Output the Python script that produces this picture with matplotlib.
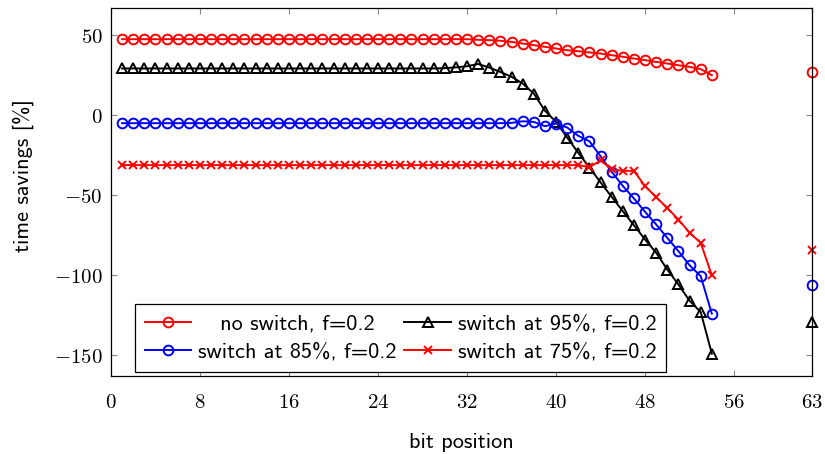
import matplotlib
matplotlib.use('Agg')
import matplotlib.pyplot as plt

plt.rcParams['mathtext.fontset'] = 'cm'
plt.rcParams['font.family'] = ['cmss10', 'DejaVu Sans']
plt.rcParams['axes.unicode_minus'] = True

# ---------------- data ----------------
bits = list(range(1, 55))

no_switch = [47.5, 47.5, 47.5, 47.5, 47.5, 47.5, 47.5, 47.5, 47.5, 47.5,
             47.5, 47.5, 47.5, 47.5, 47.5, 47.5, 47.5, 47.5, 47.5, 47.5,
             47.5, 47.5, 47.5, 47.5, 47.5, 47.5, 47.5, 47.5, 47.5, 47.5,
             47.5, 47.5, 47.1, 46.9, 46.5, 45.8, 44.8, 43.8, 42.7, 41.7,
             40.6, 40.0, 39.2, 38.5, 37.5, 36.5, 35.4, 34.4, 33.3, 32.3,
             31.2, 30.2, 28.8, 25.0]

switch95 = [29.2, 29.2, 29.2, 29.2, 29.2, 29.2, 29.2, 29.2, 29.2, 29.2,
            29.2, 29.2, 29.2, 29.2, 29.2, 29.2, 29.2, 29.2, 29.2, 29.2,
            29.2, 29.2, 29.2, 29.2, 29.2, 29.2, 29.2, 29.2, 29.2, 29.4,
            29.9, 30.6, 32.0, 29.8, 27.0, 24.0, 19.8, 13.5, 2.8, -4.2,
            -14.0, -23.5, -32.7, -42.0, -51.0, -60.0, -68.8, -77.7, -86.0, -96.5,
            -105.8, -116.0, -123.0, -149.0]

switch85 = [-5.0, -5.0, -5.0, -5.0, -5.0, -5.0, -5.0, -5.0, -5.0, -5.0,
            -5.0, -5.0, -5.0, -5.0, -5.0, -5.0, -5.0, -5.0, -5.0, -5.0,
            -5.0, -5.0, -5.0, -5.0, -5.0, -5.0, -5.0, -5.0, -5.0, -5.0,
            -5.0, -5.0, -5.0, -5.0, -5.0, -4.8, -3.8, -4.2, -6.9, -5.2,
            -7.7, -12.9, -16.3, -25.6, -35.4, -44.2, -52.0, -60.4, -68.3, -76.7,
            -85.0, -93.8, -100.6, -124.0]

switch75 = [-31.2, -31.2, -31.2, -31.2, -31.2, -31.2, -31.2, -31.2, -31.2, -31.2,
            -31.2, -31.2, -31.2, -31.2, -31.2, -31.2, -31.2, -31.2, -31.2, -31.2,
            -31.2, -31.2, -31.2, -31.2, -31.2, -31.2, -31.2, -31.2, -31.2, -31.2,
            -31.2, -31.2, -31.2, -31.2, -31.2, -31.2, -31.2, -31.2, -31.2, -31.2,
            -31.2, -31.2, -32.5, -28.3, -33.8, -34.8, -34.8, -44.4, -51.2, -58.0,
            -65.2, -73.5, -79.8, -100.0]

bit63 = [63]
no_switch_63 = [27.3]
switch95_63 = [-129.5]
switch85_63 = [-106.2]
switch75_63 = [-84.4]

labels = ['   no switch, f=0.2', 'switch at 95%, f=0.2',
          'switch at 85%, f=0.2', 'switch at 75%, f=0.2']

xticks = [0, 8, 16, 24, 32, 40, 48, 56, 63]
yticks = [-150, -100, -50, 0, 50]

# ---------------- figure ----------------
fig = plt.figure(figsize=(8.25, 4.54), dpi=100)
ax = fig.add_axes([0.1345, 0.1718, 0.8497, 0.8106])

lw = 1.4
mew = 1.4
ms_o = 7
ms_t = 6.5
ms_x = 6
h_no, = ax.plot(bits, no_switch, color='red', marker='o', ms=ms_o, mfc='none',
                mew=mew, lw=lw, label=labels[0])
h95, = ax.plot(bits, switch95, color='black', marker='^', ms=ms_t, mfc='none',
               mew=mew, lw=lw, label=labels[1])
h85, = ax.plot(bits, switch85, color='blue', marker='o', ms=ms_o, mfc='none',
               mew=mew, lw=lw, label=labels[2])
h75, = ax.plot(bits, switch75, color='red', marker='x', ms=ms_x,
               mew=mew, lw=lw, label=labels[3])

ax.plot(bit63, no_switch_63, color='red', marker='o', ms=ms_o, mfc='none',
        mew=mew, ls='none', clip_on=False)
ax.plot(bit63, switch95_63, color='black', marker='^', ms=ms_t, mfc='none',
        mew=mew, ls='none', clip_on=False)
ax.plot(bit63, switch85_63, color='blue', marker='o', ms=ms_o, mfc='none',
        mew=mew, ls='none', clip_on=False)
ax.plot(bit63, switch75_63, color='red', marker='x', ms=ms_x,
        mew=mew, ls='none', clip_on=False)

ax.set_xlim(0, 63)
ax.set_ylim(-163, 67)

ax.set_xticks(xticks)
ax.set_xticklabels([f'${v}$' for v in xticks])
ax.set_yticks(yticks)
ax.set_yticklabels([f'${v}$' for v in yticks])

ax.tick_params(axis='both', direction='in', length=4, width=0.8, color='#888888',
               top=True, right=True, labelsize=15)
ax.tick_params(axis='x', pad=12)
ax.tick_params(axis='y', pad=6)

for s in ax.spines.values():
    s.set_color('black')
    s.set_linewidth(0.9)

ax.set_xlabel('bit position', fontsize=16)
ax.set_ylabel('time savings [%]', fontsize=16)
ax.xaxis.set_label_coords(0.5, -0.155)
ax.yaxis.set_label_coords(-0.11, 0.546)

leg = ax.legend([h_no, h85, h95, h75],
                [labels[0], labels[2], labels[1], labels[3]],
                ncol=2, loc='lower left', bbox_to_anchor=(0.034, 0.011),
                fontsize=16, frameon=True, fancybox=False, framealpha=1,
                edgecolor='black', handlelength=2.1, handletextpad=0.3,
                columnspacing=0.35, borderpad=0.45, labelspacing=0.4,
                borderaxespad=0)
leg.get_frame().set_linewidth(0.9)

fig.savefig('out.png', dpi=100)
